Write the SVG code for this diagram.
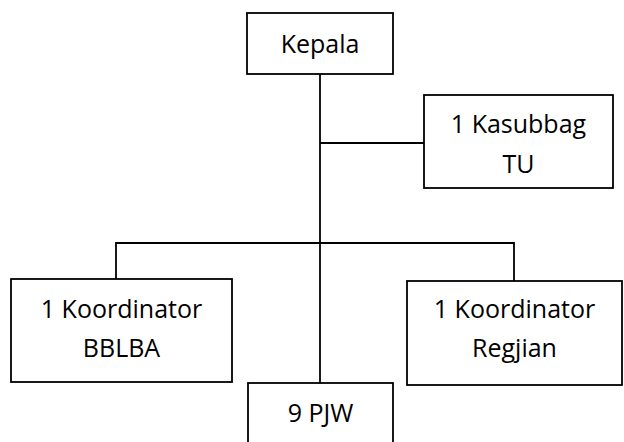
<svg xmlns="http://www.w3.org/2000/svg" width="624" height="442" viewBox="0 0 624 442">
  <style>
    .box { fill: #ffffff; stroke: #000000; stroke-width: 1.8; }
    .wire { fill: none; stroke: #000000; stroke-width: 1.8; }
    .label { font-family: "Open Sans", "Noto Sans", sans-serif; font-size: 25px; fill: #000000; text-anchor: middle; }
  </style>
  <rect width="624" height="442" fill="#ffffff"/>

  <!-- connectors -->
  <g id="connectors">
    <path class="wire" d="M320 74 V383"/>
    <path class="wire" d="M320 143 H424"/>
    <path class="wire" d="M116 279 V243 H514 V281"/>
  </g>

  <g id="kepala">
    <rect class="box" x="247" y="13" width="146" height="61"/>
    <text class="label" x="320" y="53">Kepala</text>
  </g>

  <g id="kasubbag-tu">
    <rect class="box" x="424" y="95" width="189" height="93"/>
    <text class="label" x="518.5" y="133">1 Kasubbag</text>
    <text class="label" x="518.5" y="173">TU</text>
  </g>

  <g id="koordinator-bblba">
    <rect class="box" x="11" y="279" width="221" height="103"/>
    <text class="label" x="121.5" y="318">1 Koordinator</text>
    <text class="label" x="121.5" y="357">BBLBA</text>
  </g>

  <g id="koordinator-regjian">
    <rect class="box" x="407" y="281" width="215" height="104"/>
    <text class="label" x="514.5" y="318">1 Koordinator</text>
    <text class="label" x="514.5" y="357">Regjian</text>
  </g>

  <g id="pjw">
    <rect class="box" x="248" y="383" width="145" height="70"/>
    <text class="label" x="320.5" y="422">9 PJW</text>
  </g>
</svg>
